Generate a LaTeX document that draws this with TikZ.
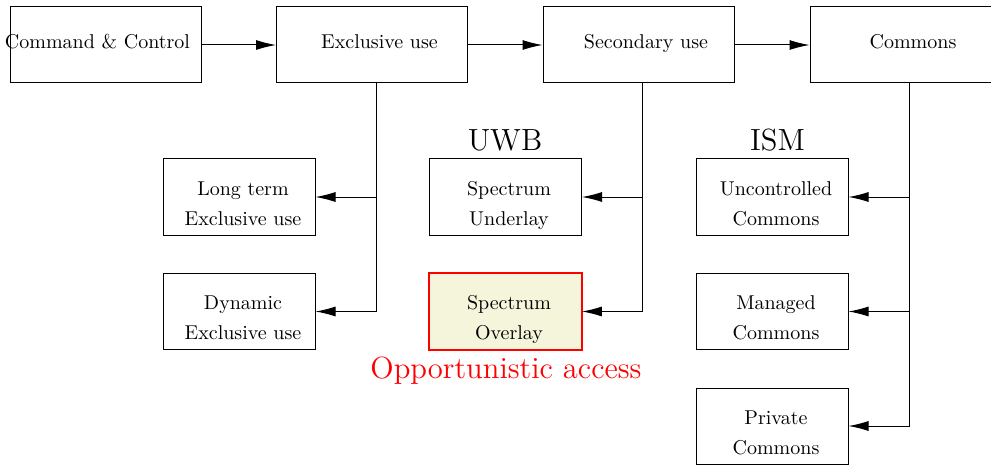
\documentclass[tikz,border=0pt]{standalone}
\usepackage{graphicx}
\usetikzlibrary{arrows.meta}
\definecolor{overlayfill}{RGB}{245,245,220}
\newcommand{\tagtext}[1]{\scalebox{1.063}{\Large #1}}
\begin{document}
\begin{tikzpicture}[x=0.5pt,y=-0.5pt,
  topbox/.style={draw, line width=0.5pt, minimum width=95.5pt, minimum height=38pt, inner sep=0pt},
  subbox/.style={draw, line width=0.5pt, minimum width=76pt, minimum height=38pt, inner sep=0pt},
  overlaybox/.style={minimum width=76pt, minimum height=38pt, inner sep=0pt, fill=overlayfill},
  overlayedge/.style={draw=red, line width=0.9pt},
  boxtext/.style={anchor=base, inner sep=0pt},
  subtext/.style={anchor=base, align=center, inner sep=0pt},
  arr/.style={line width=0.5pt, -{Latex[length=10pt,width=5pt]}},
  tag/.style={anchor=base, inner sep=0pt}]
\useasboundingbox (0,0) rectangle (991,465);
\clip (0,0) rectangle (991,465);

% top row: the four spectrum regimes
\node[topbox] (cc)  at (105.5,45) {};
\node[topbox] (ex)  at (372,45)   {};
\node[topbox] (sec) at (638.5,45) {};
\node[topbox] (com) at (905.5,45) {};
\node[boxtext] (cc-t)  at (97.5,49)  {Command \& Control};
\node[boxtext] (ex-t)  at (379.5,49) {Exclusive use};
\node[boxtext] (sec-t) at (646,49)   {Secondary use};
\node[boxtext] (com-t) at (913,49)   {Commons};

% sub-models
\node[subbox] (lt)  at (239,197)   {};
\node[subbox] (dy)  at (239,311.5) {};
\node[subbox] (und) at (505.5,197) {};
\node[overlaybox] (ovl) at (505.5,311.5) {};
\draw[overlayedge] (ovl.north west) rectangle (ovl.south east);
\node[subbox] (unc) at (772,197)   {};
\node[subbox] (man) at (772,311.5) {};
\node[subbox] (pri) at (772,426)   {};

% the base anchor sits on the second line
\node[subtext] (lt-t)  at (243,225)   {Long term\\[3pt]Exclusive use};
\node[subtext] (dy-t)  at (243,339.5) {Dynamic\\[3pt]Exclusive use};
\node[subtext] (und-t) at (509,225)   {Spectrum\\[3pt]Underlay};
\node[subtext] (ovl-t) at (509,339.5) {Spectrum\\[3pt]Overlay};
\node[subtext] (unc-t) at (776,225)   {Uncontrolled\\[3pt]Commons};
\node[subtext] (man-t) at (776,339.5) {Managed\\[3pt]Commons};
\node[subtext] (pri-t) at (776,454)   {Private\\[3pt]Commons};

% group labels
\node[tag] (uwb) at (505,150) {\tagtext{UWB}};
\node[tag] (ism) at (777.5,150) {\tagtext{ISM}};
\node[tag, text=red] (opp) at (506,378) {\tagtext{Opportunistic access}};

% top row arrows
\draw[arr] (cc) -- (ex);
\draw[arr] (ex) -- (sec);
\draw[arr] (sec) -- (com);

% branches down to the sub-models
\coordinate (ex-d)  at ([xshift=2pt]ex.south);
\coordinate (sec-d) at ([xshift=2pt]sec.south);
\coordinate (com-d) at ([xshift=2pt]com.south);

\draw[arr] (ex-d) |- (dy.east);
\draw[arr] (ex-d |- lt.east) -- (lt.east);

\draw[arr] (sec-d) |- (ovl.east);
\draw[arr] (sec-d |- und.east) -- (und.east);

\draw[arr] (com-d) |- (pri.east);
\draw[arr] (com-d |- unc.east) -- (unc.east);
\draw[arr] (com-d |- man.east) -- (man.east);
\end{tikzpicture}
\end{document}
